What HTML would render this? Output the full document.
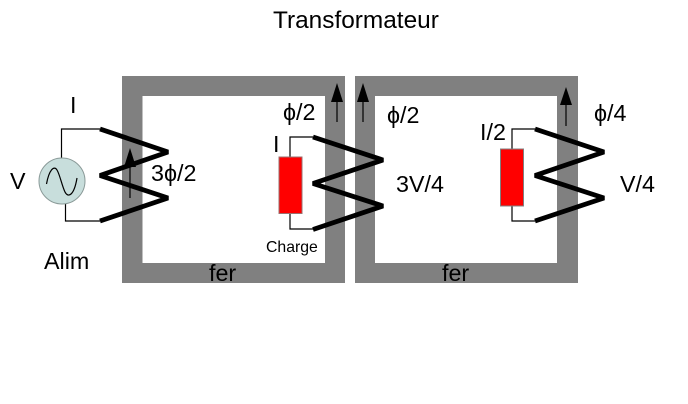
<!DOCTYPE html>
<html>
<head>
<meta charset="utf-8">
<style>
html,body{margin:0;padding:0;background:#fff;width:688px;height:404px;overflow:hidden}
svg{display:block}
text{font-family:"Liberation Sans",sans-serif;font-size:23.300px;fill:#000}
</style>
</head>
<body>
<svg width="688" height="404" viewBox="0 0 688 404" xmlns="http://www.w3.org/2000/svg">
<rect width="688" height="404" fill="#fff"/>
<text x="273" y="28" style="font-size:24.400px">Transformateur</text>

<path fill-rule="evenodd" fill="#808080" d="M122 76H345V283H122ZM142.500 96V263H325V96Z"/>
<path fill-rule="evenodd" fill="#808080" d="M355 76H578V283H355ZM375 96V263H557V96Z"/>

<g fill="none" stroke="#000" stroke-width="1.200">
<path d="M100 129H61.500V160"/>
<path d="M100 221H65.500V202"/>
<path d="M313 137H290V157"/>
<path d="M313 229H290V213"/>
<path d="M535 129H512V149"/>
<path d="M535 221H512V206"/>
<path d="M130 198V160"/>
<path d="M337 122V95"/>
<path d="M363 122V95"/>
<path d="M566 126V100"/>
</g>

<circle cx="62" cy="181" r="23" fill="#c8dedc" stroke="#8a9a98" stroke-width="1"/>
<path d="M46.500 184C49 170 54 165 57 170C60 175 62 186 65 192C68 198 74 196 77 178" fill="none" stroke="#000" stroke-width="1.200"/>

<rect x="279" y="157" width="23" height="56.500" fill="#ff0000" stroke="#9a7070" stroke-width="1"/>
<rect x="500.500" y="149" width="23" height="57" fill="#ff0000" stroke="#808080" stroke-width="1"/>

<g fill="none" stroke="#000" stroke-width="4.800" stroke-linejoin="bevel">
<path d="M100 129L168 152L100 175.500L168 198L100 221"/>
<path d="M313 137L383 160L313 183.500L383 206L313 229.500"/>
<path d="M535 129L604 152L535 175.500L604 198L535 221"/>
</g>

<g fill="#000">
<path d="M130 148L124 167H136Z"/>
<path d="M337 83L331 102H343Z"/>
<path d="M363 83L357 102H369Z"/>
<path d="M566 87L560 105H572Z"/>
</g>

<text x="70" y="113">I</text>
<text x="10" y="189">V</text>
<text x="44" y="269">Alim</text>
<text x="151" y="181">3ϕ/2</text>
<text x="283" y="120">ϕ/2</text>
<text x="273" y="152">I</text>
<text x="387" y="123">ϕ/2</text>
<text x="396" y="192">3V/4</text>
<text x="266" y="252" style="font-size:15.800px">Charge</text>
<text x="209" y="281">fer</text>
<text x="442" y="281">fer</text>
<text x="480" y="140">I/2</text>
<text x="594" y="121">ϕ/4</text>
<text x="620" y="192">V/4</text>
</svg>
</body>
</html>
